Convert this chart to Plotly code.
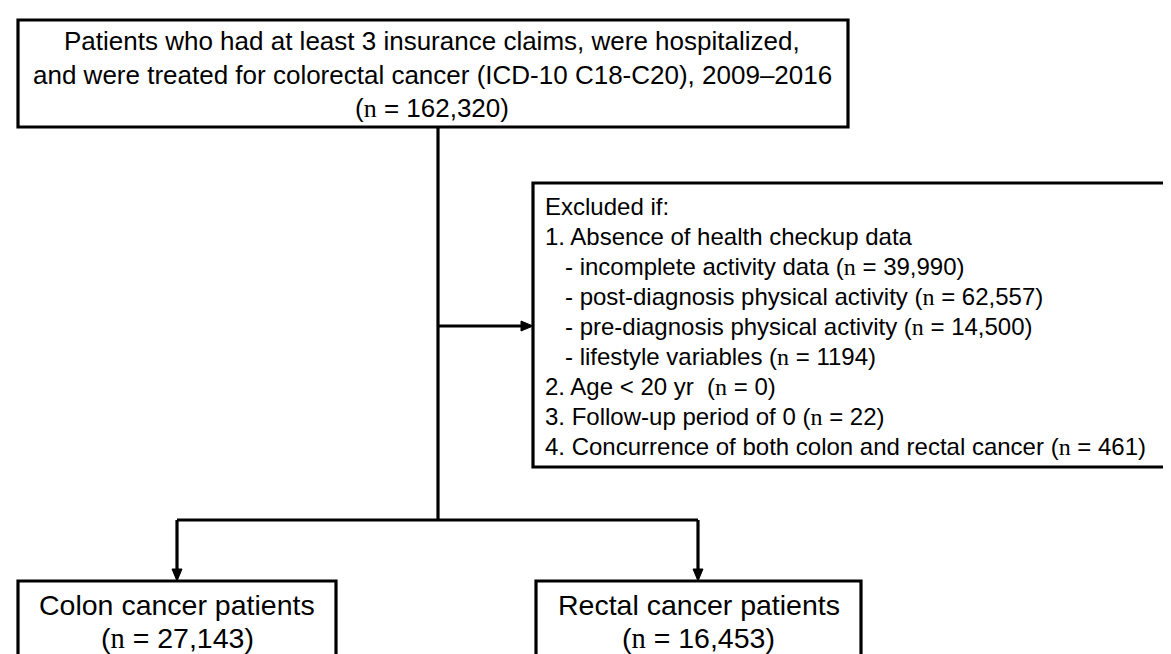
import plotly.graph_objects as go

# ---------------- data (text content of the flow chart) ----------------
top_lines = [
    "Patients who had at least 3 insurance claims, were hospitalized,",
    "and were treated for colorectal cancer (ICD-10 C18-C20), 2009–2016",
]
total_n = "162,320"

excl_title = "Excluded if:"
excl_main = "1. Absence of health checkup data"
excl_sub_labels = [
    "- incomplete activity data",
    "- post-diagnosis physical activity",
    "- pre-diagnosis physical activity",
    "- lifestyle variables",
]
excl_sub_n = ["39,990", "62,557", "14,500", "1194"]
excl_other_labels = [
    "2. Age &lt; 20 yr&#160;",
    "3. Follow-up period of 0",
    "4. Concurrence of both colon and rectal cancer",
]
excl_other_n = ["0", "22", "461"]

groups = ["Colon cancer patients", "Rectal cancer patients"]
group_n = ["27,143", "16,453"]

# ---------------- layout geometry (pixels) ----------------
W, H = 1171, 654
SANS = "Liberation Sans, Arial, sans-serif"
SERIF = "Liberation Serif, Times New Roman, serif"
LW = 3.2

top_box = dict(x0=10, y0=12, x1=840, y1=119)
top_text_x = 424
top_text_y = [33, 67, 100]
trunk_x = 430
side_y = 318
excl_box = dict(x0=525, y0=175, x1=1165, y1=459)
excl_x, excl_indent_x = 535, 555
excl_y0, excl_dy = 198, 30
branch_y = 512
group_x = [169, 690]
group_boxes = [dict(x0=10, x1=328), dict(x0=528, x1=853)]
group_top, group_bottom = 573, 664
group_text_y = [597, 630]

F_TOP, F_EXCL, F_GRP = 26, 24, 28.5
AH_L, AH_W = 12, 5


def n_text(val):
    return f'(<span style="font-family:{SERIF}">n</span> = {val})'


fig = go.Figure()
shapes = []
ann = []


def rect(x0, y0, x1, y1):
    shapes.append(dict(type="rect", x0=x0, y0=y0, x1=x1, y1=y1, xref="x", yref="y",
                       line=dict(color="black", width=LW), fillcolor="white", layer="below"))


def line(x0, y0, x1, y1):
    shapes.append(dict(type="line", x0=x0, y0=y0, x1=x1, y1=y1, xref="x", yref="y",
                       line=dict(color="black", width=LW)))


def tri(points):
    p = "M " + " L ".join(f"{a},{b}" for a, b in points) + " Z"
    shapes.append(dict(type="path", path=p, xref="x", yref="y",
                       line=dict(color="black", width=1), fillcolor="black"))


def text(x, y, t, size, anchor="center"):
    ann.append(dict(x=x, y=y, xref="x", yref="y", text=t, showarrow=False,
                    xanchor=anchor, yanchor="middle",
                    font=dict(family=SANS, size=size, color="black")))


# top box
rect(**top_box)
for t, y in zip(top_lines + [n_text(total_n)], top_text_y):
    text(top_text_x, y, t, F_TOP)

# trunk and side arrow
line(trunk_x, top_box["y1"], trunk_x, branch_y)
line(trunk_x, side_y, excl_box["x0"] - AH_L, side_y)
tri([(excl_box["x0"], side_y), (excl_box["x0"] - AH_L, side_y - AH_W),
     (excl_box["x0"] - AH_L, side_y + AH_W)])

# exclusion box
rect(**excl_box)
rows = [(excl_x, excl_title), (excl_x, excl_main)]
rows += [(excl_indent_x, f"{l} {n_text(v)}") for l, v in zip(excl_sub_labels, excl_sub_n)]
rows += [(excl_x, f"{l} {n_text(v)}") for l, v in zip(excl_other_labels, excl_other_n)]
for i, (x, t) in enumerate(rows):
    text(x, excl_y0 + i * excl_dy, t, F_EXCL, anchor="left")

# branch and down arrows
line(group_x[0], branch_y, group_x[1], branch_y)
for gx in group_x:
    line(gx, branch_y, gx, group_top - AH_L)
    tri([(gx, group_top), (gx - AH_W, group_top - AH_L), (gx + AH_W, group_top - AH_L)])

# group boxes
for gb, gx, name, val in zip(group_boxes, group_x, groups, group_n):
    rect(gb["x0"], group_top, gb["x1"], group_bottom)
    cx = (gb["x0"] + gb["x1"]) / 2
    text(cx, group_text_y[0], name, F_GRP)
    text(cx, group_text_y[1], n_text(val), F_GRP)

fig.update_layout(
    width=W, height=H, margin=dict(l=0, r=0, t=0, b=0),
    paper_bgcolor="white", plot_bgcolor="white",
    xaxis=dict(range=[0, W], visible=False, fixedrange=True),
    yaxis=dict(range=[H, 0], visible=False, fixedrange=True),
    shapes=shapes, annotations=ann, showlegend=False,
)
fig.write_html("out.html", config={"displayModeBar": False})
